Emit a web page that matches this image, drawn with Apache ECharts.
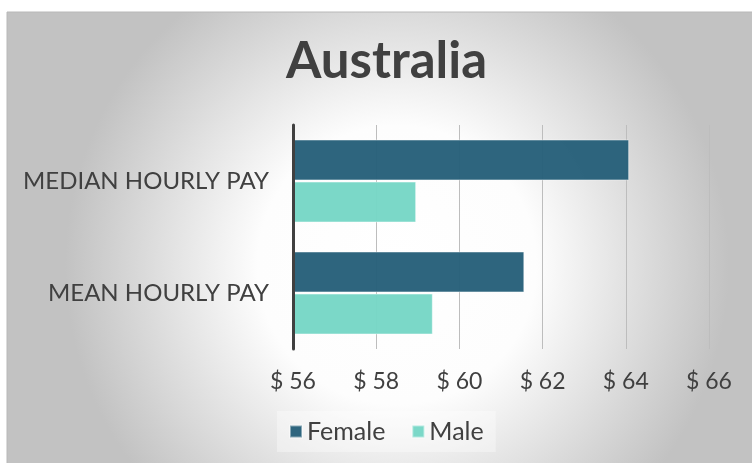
<!DOCTYPE html>
<html>
<head>
<meta charset="utf-8">
<script src="https://cdn.jsdelivr.net/npm/echarts@6/dist/echarts.min.js"></script>
<style>
  html, body { margin: 0; padding: 0; background: #fff; }
  #chart { width: 752px; height: 463px; }
</style>
</head>
<body>
<div id="chart"></div>
<script>
// chart data
const categories = ['MEDIAN HOURLY PAY', 'MEAN HOURLY PAY']
const femaleValues = [64.08, 61.56]
const maleValues = [58.96, 59.36]
const seriesNames = ['Female', 'Male']
const xMin = 56
const xMax = 66
const xStep = 2

const chart = echarts.init(document.getElementById('chart'))
const font = 'Lato'

chart.setOption({
  animation: false,
  graphic: [{
    type: 'rect',
    z: -10,
    shape: { x: 7, y: 12, width: 750, height: 460 },
    style: {
      fill: new echarts.graphic.RadialGradient(0.52, 0.55, 0.72, [
        { offset: 0, color: '#ffffff' },
        { offset: 0.42, color: '#fdfdfd' },
        { offset: 1, color: '#c2c2c2' }
      ]),
      stroke: '#b8b8b8',
      lineWidth: 1
    }
  }],
  title: {
    text: 'Australia',
    left: 281,
    top: 31,
    textStyle: { fontFamily: font, fontSize: 51, fontWeight: 'bold', color: '#404040' }
  },
  legend: {
    data: seriesNames,
    left: 277,
    top: 411,
    padding: [8, 12, 8, 12],
    backgroundColor: 'rgba(255,255,255,0.35)',
    itemWidth: 12,
    itemHeight: 12,
    itemGap: 26,
    icon: 'rect',
    textStyle: { fontFamily: font, fontSize: 25, color: '#404040' }
  },
  grid: { left: 293, right: 43, top: 125, bottom: 114, containLabel: false },
  xAxis: {
    type: 'value',
    min: xMin,
    max: xMax,
    interval: xStep,
    axisLine: { show: false },
    axisTick: { show: false },
    splitLine: { lineStyle: { color: '#bdbdbd', width: 1 } },
    axisLabel: {
      margin: 21,
      fontFamily: font,
      fontSize: 23,
      color: '#404040',
      formatter: v => '$ ' + v
    }
  },
  yAxis: {
    type: 'category',
    data: categories,
    inverse: true,
    z: 5,
    axisLine: { lineStyle: { color: '#404040', width: 3 } },
    axisTick: { show: false },
    axisLabel: { margin: 24, fontFamily: font, fontSize: 24, color: '#404040' }
  },
  series: [{
    name: seriesNames[0],
    type: 'bar',
    data: femaleValues,
    barCategoryGap: '26%',
    barGap: '3%',
    itemStyle: { color: '#255f79', opacity: 0.96, borderColor: 'rgba(255,255,255,0.45)', borderWidth: 1 }
  }, {
    name: seriesNames[1],
    type: 'bar',
    data: maleValues,
    barCategoryGap: '26%',
    barGap: '3%',
    itemStyle: { color: '#76d6c6', opacity: 0.96, borderColor: 'rgba(255,255,255,0.45)', borderWidth: 1 }
  }]
})
</script>
</body>
</html>
